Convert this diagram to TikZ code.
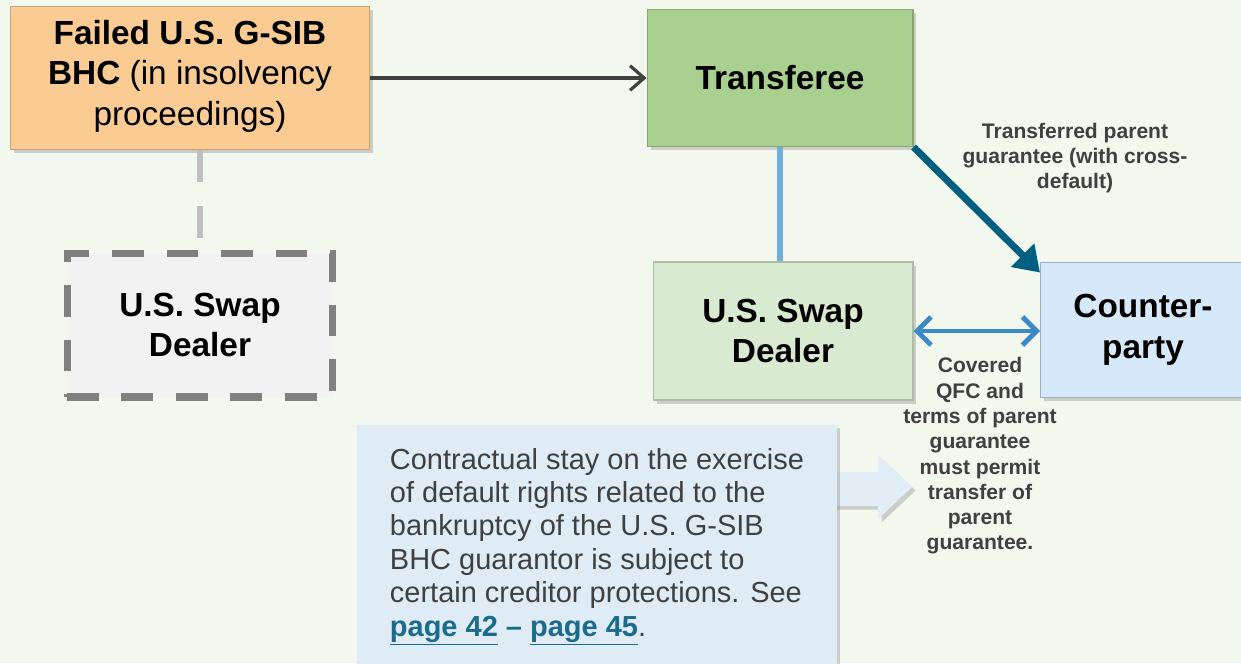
\documentclass[tikz,border=0pt]{standalone}
\usepackage{fontspec}
\setmainfont{Liberation Sans}
\usetikzlibrary{positioning,shadows,arrows.meta}

\definecolor{bgfill}{HTML}{F3F8EE}
\definecolor{failfill}{HTML}{FBCB94}
\definecolor{transfill}{HTML}{A9D08E}
\definecolor{dealfill}{HTML}{D8EBD1}
\definecolor{cptyfill}{HTML}{D5E9FA}
\definecolor{calloutfill}{HTML}{DFEBF5}
\definecolor{labelgray}{HTML}{404040}
\definecolor{tealarrow}{HTML}{005F80}
\definecolor{bluearrow}{HTML}{3A89C9}
\definecolor{paleblue}{HTML}{70AEDC}
\definecolor{linkteal}{HTML}{1A6C8C}

\newcommand{\pagelink}[1]{\textcolor{linkteal}{\textbf{\underline{#1}}}}

\begin{document}
\begin{tikzpicture}[x=0.02cm, y=-0.02cm,
    entity/.style={rectangle, align=center, font=\fontsize{19}{23}\selectfont\bfseries,
        line width=0.6pt, drop shadow={shadow xshift=2pt, shadow yshift=-2pt, opacity=0.35}},
    note/.style={align=center, text=labelgray, font=\fontsize{12}{14.4}\selectfont\bfseries}]

    % background
    \fill [bgfill] (0,0) rectangle (1241,663);
    \useasboundingbox (0,0) rectangle (1241,663);

    % boxes
    \node [entity, fill=failfill, draw=failfill!80!black, minimum width=7.2cm, minimum height=2.86cm, text depth=6pt] (failed) at (190,78)
        {Failed U.S. G-SIB\\BHC \mdseries(in insolvency\\\mdseries proceedings)};
    \node [entity, fill=transfill, draw=transfill!80!black, minimum width=5.32cm, minimum height=2.74cm] (transferee) at (780,78) {Transferee};
    \node [entity, fill=dealfill, draw=dealfill!80!black, minimum width=5.2cm, minimum height=2.76cm] (dealer) at (783,331) {U.S. Swap\\Dealer};
    \node [entity, fill=cptyfill, draw=cptyfill!75!black, minimum width=4.1cm, minimum height=2.7cm, anchor=west] (cpty) at (1040,330) {Counter-\\party};
    \node [rectangle, align=center, font=\fontsize{19}{23}\selectfont\bfseries, fill=black!5, draw=black!50,
        line width=4pt, dash pattern=on 18pt off 13pt, minimum width=5.32cm, minimum height=2.88cm] (olddealer) at (200,325) {U.S. Swap\\Dealer};

    % callout with block arrow
    \fill [calloutfill!90!white, drop shadow={shadow xshift=2pt, shadow yshift=-2pt, opacity=0.35}]
        (830,472) -- (878,472) -- (878,455) -- (912,487) -- (878,519) -- (878,506) -- (830,506) -- cycle;
    \node [rectangle, fill=calloutfill, align=left, text=labelgray, font=\fontsize{16.5}{19}\selectfont,
        minimum width=9.6cm, minimum height=4.9cm,
        drop shadow={shadow xshift=2pt, shadow yshift=-2pt, opacity=0.35}] (callout) at (597,547)
        {Contractual stay on the exercise\\of default rights related to the\\bankruptcy of the U.S. G-SIB\\BHC guarantor is subject to\\certain creditor protections. See\\\pagelink{page 42} \textcolor{linkteal}{\textbf{--}} \pagelink{page 45}.};

    % connectors
    \draw [labelgray, line width=1.8pt, -{Straight Barb[length=8pt, width=14pt]}] (failed) -- (transferee);
    \draw [black!25, line width=3.4pt, dash pattern=on 18pt off 14pt] (failed.south -| olddealer) -- (olddealer);
    \draw [paleblue, line width=3.4pt] (transferee.south) -- (transferee.south |- dealer.north);
    \draw [tealarrow, line width=4pt, -{Triangle[length=14pt, width=18pt]}] (transferee.south east) -- ([yshift=-6pt]cpty.north west);
    \draw [bluearrow, line width=2.8pt, {Straight Barb[length=8pt, width=16pt]}-{Straight Barb[length=8pt, width=16pt]}] (dealer) -- (cpty.west |- dealer);

    % labels
    \node [note] (guarlabel) at (1075,158) {Transferred parent\\guarantee (with cross-\\default)};
    \node [note] (qfclabel) at (980,456) {Covered\\QFC and\\terms of parent\\guarantee\\must permit\\transfer of\\parent\\guarantee.};
\end{tikzpicture}
\end{document}
